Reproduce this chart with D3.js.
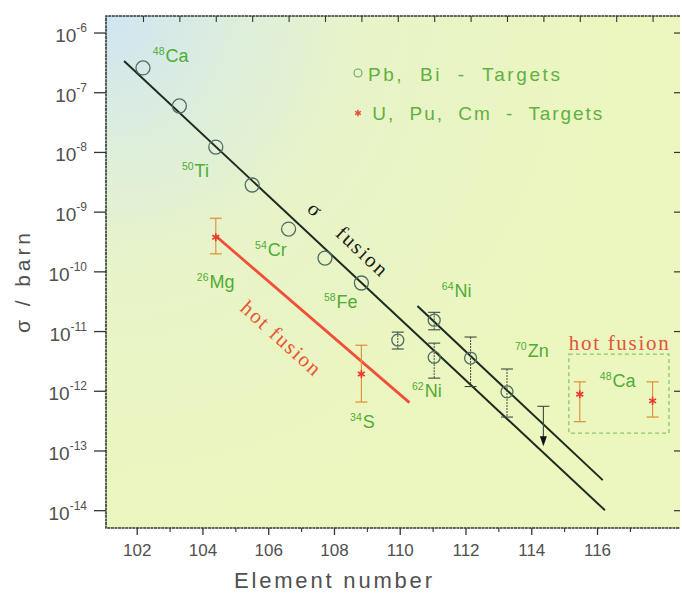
<!DOCTYPE html>
<html><head><meta charset="utf-8">
<script src="https://cdn.jsdelivr.net/npm/d3@7"></script>
<style>body{margin:0;background:#fff}</style>
</head><body>
<svg id="c" width="682" height="595"></svg>
<script>
// ---------- data ----------
// cold fusion (Pb, Bi targets)
const coldZ      = [102, 103, 104, 105, 106, 107, 108, 109, 110, 110, 111, 112];
const coldSigma  = [2.6e-7, 6.0e-8, 1.23e-8, 2.85e-9, 5.2e-10, 1.7e-10, 6.5e-11, 7.2e-12, 1.55e-11, 3.7e-12, 3.6e-12, 9.8e-13];
const coldErrHi  = [null, null, null, null, null, null, null, 9.8e-12, 2.1e-11, 6.4e-12, 8.1e-12, 2.36e-12];
const coldErrLo  = [null, null, null, null, null, null, null, 5.1e-12, 1.07e-11, 1.66e-12, 1.2e-12, 3.7e-13];
// upper limit
const limitZ     = [113];
const limitSigma = [5.6e-13];
const limitArrow = [1.2e-13];
// hot fusion (U, Pu, Cm targets)
const hotZ       = [104, 108, 114, 116];
const hotSigma   = [3.8e-10, 1.95e-12, 8.9e-13, 6.9e-13];
const hotErrHi   = [7.9e-10, 5.9e-12, 1.44e-12, 1.44e-12];
const hotErrLo   = [2.0e-10, 6.6e-13, 3.1e-13, 3.7e-13];
// trend lines
const fitColdZ     = [101.48, 114.69];
const fitColdSigma = [3.4e-7, 1.02e-14];
const fitNiZ       = [109.54, 114.63];
const fitNiSigma   = [2.67e-11, 3.25e-14];
const fitHotZ      = [104, 109.32];
const fitHotSigma  = [3.98e-10, 6.46e-13];
// tick labels
const xTickLabels = [102, 104, 106, 108, 110, 112, 114, 116];
const xMinorTicks = [103, 105, 107, 109, 111, 113, 115, 117];
const topTicks    = [102, 103, 104, 105, 106, 107, 108, 109, 110, 111, 112, 113, 114, 115, 116];
const yTickExps   = [-6, -7, -8, -9, -10, -11, -12, -13, -14];
// projectile labels
const projMass = ["48", "50", "54", "26", "58", "64", "62", "70", "34", "48"];
const projElem = ["Ca", "Ti", "Cr", "Mg", "Fe", "Ni", "Ni", "Zn", "S", "Ca"];

// ---------- layout ----------
const L = 106, T = 16, R = 680, B = 528;
const svg = d3.select("#c");

const y = d3.scaleLog().domain([Math.pow(10, -14.29), Math.pow(10, -5.715)]).range([B, T]);
const x = d3.scaleLinear().domain([100.984, 116.753]).range([L, R]);      // data / top axis
const xb = d3.scaleLinear().domain([101.066, 118.524]).range([L, R]);     // printed bottom axis

// background
const defs = svg.append("defs");
const rg = defs.append("radialGradient").attr("id", "bg")
  .attr("gradientUnits", "userSpaceOnUse").attr("cx", L).attr("cy", T).attr("r", 520);
rg.append("stop").attr("offset", "0%").attr("stop-color", "#cfe5f3");
rg.append("stop").attr("offset", "22%").attr("stop-color", "#dcedde");
rg.append("stop").attr("offset", "50%").attr("stop-color", "#e8f4c8");
rg.append("stop").attr("offset", "100%").attr("stop-color", "#ecf6bf");
svg.append("rect").attr("x", L).attr("y", T).attr("width", R - L).attr("height", B - T).attr("fill", "url(#bg)");

const axCol = "#2b3a2e";
// frame
svg.append("path").attr("d", `M${R},${T}H${L}V${B}H${R}`).attr("fill", "none")
  .attr("stroke", axCol).attr("stroke-width", 1.6).attr("stroke-dasharray", "3,0.6");

// left axis
const gl = svg.append("g");
yTickExps.forEach(e => {
  const yy = y(Math.pow(10, e));
  gl.append("line").attr("x1", L - 12).attr("x2", L).attr("y1", yy).attr("y2", yy).attr("stroke", axCol).attr("stroke-width", 1.3);
  const t = gl.append("text").attr("x", L - 19).attr("y", yy + 9).attr("text-anchor", "end")
    .attr("font-family", "Liberation Sans, Arial, sans-serif").attr("fill", "#505050");
  t.append("tspan").attr("font-size", 19).text("10");
  t.append("tspan").attr("font-size", 12).attr("dy", -10).text("-" + (-e));
});
// right axis ticks
yTickExps.forEach(e => {
  const yy = y(Math.pow(10, e));
  svg.append("line").attr("x1", R - 6).attr("x2", R).attr("y1", yy).attr("y2", yy).attr("stroke", axCol).attr("stroke-width", 1.2);
});
// top axis ticks (data scale)
svg.append("g").attr("transform", `translate(0,${T})`)
  .call(d3.axisBottom(x).tickValues(topTicks).tickSize(6).tickFormat(""))
  .call(g => g.select(".domain").remove())
  .call(g => g.selectAll("line").attr("stroke", axCol).attr("stroke-width", 1.1));
// bottom axis
svg.append("g").attr("transform", `translate(0,${B})`)
  .call(d3.axisBottom(xb).tickValues(xTickLabels).tickSize(7).tickPadding(9).tickFormat(d3.format("d")))
  .call(g => g.select(".domain").remove())
  .call(g => g.selectAll("line").attr("stroke", axCol).attr("stroke-width", 1.3))
  .call(g => g.selectAll("text").attr("font-size", 17).attr("fill", "#505050")
    .attr("font-family", "Liberation Sans, Arial, sans-serif"));
svg.append("g").attr("transform", `translate(0,${B})`)
  .call(d3.axisBottom(xb).tickValues(xMinorTicks).tickSize(4).tickFormat(""))
  .call(g => g.select(".domain").remove())
  .call(g => g.selectAll("line").attr("stroke", axCol).attr("stroke-width", 1.1));

// axis titles
svg.append("text").attr("x", 333).attr("y", 588).attr("text-anchor", "middle")
  .attr("font-family", "Liberation Sans, Arial, sans-serif").attr("font-size", 22)
  .attr("fill", "#505050").attr("textLength", 198).text("Element number");
svg.append("text").attr("transform", "translate(30,283) rotate(-90)").attr("text-anchor", "middle")
  .attr("font-family", "Liberation Sans, Arial, sans-serif").attr("font-size", 21)
  .attr("fill", "#505050").attr("textLength", 100).text("σ / barn");

// ---------- marks ----------
const line = d3.line().x(d => x(d[0])).y(d => y(d[1]));
svg.append("path").attr("d", line(d3.zip(fitColdZ, fitColdSigma))).attr("stroke", "#1c2a20").attr("stroke-width", 2).attr("fill", "none");
svg.append("path").attr("d", line(d3.zip(fitNiZ, fitNiSigma))).attr("stroke", "#1c2a20").attr("stroke-width", 2).attr("fill", "none");
svg.append("path").attr("d", line(d3.zip(fitHotZ, fitHotSigma))).attr("stroke", "#f0503a").attr("stroke-width", 2.8).attr("fill", "none");

// cold error bars
const ebCol = "#3c4a40";
coldZ.forEach((z, i) => {
  if (coldErrHi[i] == null) return;
  const xx = x(z), y1 = y(coldErrHi[i]), y2 = y(coldErrLo[i]);
  svg.append("line").attr("x1", xx).attr("x2", xx).attr("y1", y1).attr("y2", y2).attr("stroke", ebCol).attr("stroke-width", 1).attr("stroke-dasharray", "2,1");
  [y1, y2].forEach(v => svg.append("line").attr("x1", xx - 6).attr("x2", xx + 6).attr("y1", v).attr("y2", v).attr("stroke", ebCol).attr("stroke-width", 1.1));
});
// cold circles
svg.append("g").selectAll("circle").data(coldZ).join("circle")
  .attr("cx", d => x(d)).attr("cy", (d, i) => y(coldSigma[i])).attr("r", (d, i) => coldErrHi[i] == null ? 7 : 6)
  .attr("fill", "none").attr("stroke", "#4f6e62").attr("stroke-width", 1.3);

// upper limit
limitZ.forEach((z, i) => {
  const xx = x(z), y1 = y(limitSigma[i]), y2 = y(limitArrow[i]);
  svg.append("line").attr("x1", xx - 6).attr("x2", xx + 6).attr("y1", y1).attr("y2", y1).attr("stroke", ebCol).attr("stroke-width", 1.1);
  svg.append("line").attr("x1", xx).attr("x2", xx).attr("y1", y1).attr("y2", y2 - 8).attr("stroke", ebCol).attr("stroke-width", 1.1);
  svg.append("path").attr("d", `M${xx - 3.5},${y2 - 10}L${xx + 3.5},${y2 - 10}L${xx},${y2}Z`).attr("fill", "#111");
});

// hot error bars + stars
const hotEb = "#e0943c";
hotZ.forEach((z, i) => {
  const xx = x(z), y1 = y(hotErrHi[i]), y2 = y(hotErrLo[i]);
  svg.append("line").attr("x1", xx).attr("x2", xx).attr("y1", y1).attr("y2", y2).attr("stroke", hotEb).attr("stroke-width", 1.2);
  [y1, y2].forEach(v => svg.append("line").attr("x1", xx - 6).attr("x2", xx + 6).attr("y1", v).attr("y2", v).attr("stroke", hotEb).attr("stroke-width", 1.3));
});
svg.append("g").selectAll("path").data(hotZ).join("path")
  .attr("transform", (d, i) => `translate(${x(d)},${y(hotSigma[i])})`)
  .attr("d", d3.symbol().type(d3.symbolAsterisk).size(45))
  .attr("stroke", "#ec3a2a").attr("stroke-width", 1.6).attr("fill", "none");

// projectile labels (data-space anchors)
const labelAt = [[102.27, -6.486], [103.07, -8.412], [105.08, -9.735], [103.48, -10.27], [106.97, -10.606],
                 [110.21, -10.42], [109.39, -12.097], [112.22, -11.427], [107.69, -12.616], [114.55, -11.93]];
const green = "#4fac36";
projElem.forEach((el, i) => {
  const t = svg.append("text").attr("x", x(labelAt[i][0])).attr("y", y(Math.pow(10, labelAt[i][1])))
    .attr("font-family", "Liberation Sans, Arial, sans-serif").attr("fill", green);
  t.append("tspan").attr("font-size", 10.5).attr("dy", -7).text(projMass[i]);
  t.append("tspan").attr("font-size", 18).attr("dy", 7).attr("dx", 1).text(el);
});

// rotated annotations
const rot = (z, lg, ang) => `translate(${x(z)},${y(Math.pow(10, lg))}) rotate(${ang})`;
svg.append("text").attr("transform", rot(106.725, -8.948, 43)).attr("text-anchor", "middle").attr("dominant-baseline", "central")
  .attr("font-family", "Liberation Serif, Times New Roman, serif").attr("font-size", 21).attr("fill", "#1a1a1a").text("σ");
svg.append("text").attr("transform", rot(108.016, -9.652, 43)).attr("text-anchor", "middle").attr("dominant-baseline", "central")
  .attr("font-family", "Liberation Serif, Times New Roman, serif").attr("font-size", 21).attr("fill", "#1a1a1a")
  .attr("textLength", 62).text("fusion");
svg.append("text").attr("transform", rot(105.79, -11.109, 42)).attr("text-anchor", "middle").attr("dominant-baseline", "central")
  .attr("font-family", "Liberation Serif, Times New Roman, serif").attr("font-size", 21).attr("fill", "#e8552f")
  .attr("textLength", 100).text("hot fusion");

// hot fusion box
svg.append("rect").attr("x", x(113.70)).attr("y", y(Math.pow(10, -11.377)))
  .attr("width", x(116.45) - x(113.70)).attr("height", y(Math.pow(10, -12.70)) - y(Math.pow(10, -11.377)))
  .attr("fill", "none").attr("stroke", "#8cc46c").attr("stroke-width", 1.3).attr("stroke-dasharray", "4,3");
svg.append("text").attr("x", x(115.07)).attr("y", y(Math.pow(10, -11.31))).attr("text-anchor", "middle")
  .attr("font-family", "Liberation Serif, Times New Roman, serif").attr("font-size", 21).attr("fill", "#e0553a")
  .attr("textLength", 100).text("hot fusion");

// legend
svg.append("circle").attr("cx", x(107.907)).attr("cy", y(Math.pow(10, -6.67))).attr("r", 4)
  .attr("fill", "none").attr("stroke", "#6aa858").attr("stroke-width", 1.1);
svg.append("text").attr("x", x(108.18)).attr("y", y(Math.pow(10, -6.804))).style("white-space", "pre")
  .attr("font-family", "Liberation Sans, Arial, sans-serif").attr("font-size", 19).attr("fill", "#62b042")
  .attr("textLength", 192).text("Pb,  Bi  -  Targets");
svg.append("path").attr("transform", `translate(${x(107.907)},${y(Math.pow(10, -7.34))})`)
  .attr("d", d3.symbol().type(d3.symbolAsterisk).size(30)).attr("stroke", "#ec4a32").attr("stroke-width", 1.5);
svg.append("text").attr("x", x(108.3)).attr("y", y(Math.pow(10, -7.457))).style("white-space", "pre")
  .attr("font-family", "Liberation Sans, Arial, sans-serif").attr("font-size", 19).attr("fill", "#62b042")
  .attr("textLength", 230).text("U,  Pu,  Cm  -  Targets");
</script>
</body></html>
